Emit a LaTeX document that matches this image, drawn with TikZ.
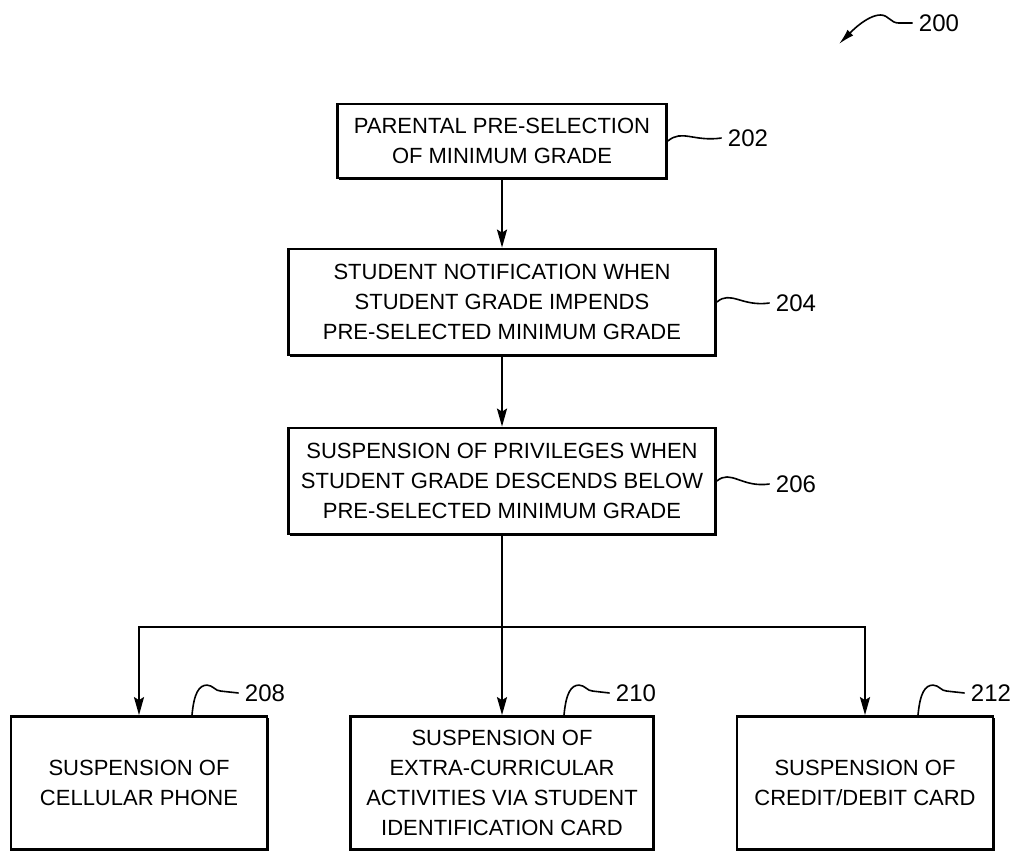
\documentclass[tikz,border=0pt]{standalone}
\usepackage{fontspec}
\setmainfont{Liberation Sans}
\usetikzlibrary{arrows.meta,shadows}
\tikzstyle{stepbox}=[draw, line width=1.4pt, fill=white, align=center, inner sep=2pt,
  font=\fontsize{11}{15}\selectfont,
  drop shadow={shadow xshift=0.8pt, shadow yshift=-0.8pt, fill=black, opacity=1}]
\tikzstyle{refnum}=[inner sep=3pt, font=\fontsize{12}{14}\selectfont]
\tikzstyle{leader}=[line width=0.8pt]
\tikzstyle{flow}=[draw, line width=1.1pt, -{Stealth[length=9pt,width=5pt,inset=1.5pt]}]
\newcommand{\stepbox}{\node[stepbox]}
\newcommand{\refnum}{\node[refnum]}

\begin{document}
\begin{tikzpicture}[x=0.5pt, y=-0.5pt
  ,every edge/.style={flow}
]
\useasboundingbox (0,0) rectangle (1016,852);
\stepbox[minimum width=164.5pt, minimum height=37pt] (b202) at (502,141) {PARENTAL PRE-SELECTION\\OF MINIMUM GRADE};
\stepbox[minimum width=213.5pt, minimum height=53pt] (b204) at (502,302) {STUDENT NOTIFICATION WHEN\\STUDENT GRADE IMPENDS\\PRE-SELECTED MINIMUM GRADE};
\stepbox[minimum width=213.5pt, minimum height=53pt] (b206) at (502,481) {SUSPENSION OF PRIVILEGES WHEN\\STUDENT GRADE DESCENDS BELOW\\PRE-SELECTED MINIMUM GRADE};
\stepbox[minimum width=128pt, minimum height=66.5pt] (b208) at (139,783) {SUSPENSION OF\\CELLULAR PHONE};
\stepbox[minimum width=151.5pt, minimum height=66.5pt] (b210) at (502,783) {SUSPENSION OF\\EXTRA-CURRICULAR\\ACTIVITIES VIA STUDENT\\IDENTIFICATION CARD};
\stepbox[minimum width=128pt, minimum height=66.5pt] (b212) at (865,783) {SUSPENSION OF\\CREDIT/DEBIT CARD};
\coordinate (split) at (502,627);
% reference numerals
\refnum (l200) at (939,23) {200};
\refnum (l202) at (748,138) {202};
\refnum (l204) at (796,303) {204};
\refnum (l206) at (796,484) {206};
\refnum (l208) at (265,693) {208};
\refnum (l210) at (636,693) {210};
\refnum (l212) at (991,693) {212};
\coordinate (t200) at (839,44);
\path
(b202) edge (b204)
(b204) edge (b206)
(split) edge (b210.north)
;
\draw[line width=1.1pt] (b206) -- (split);
\draw[flow] (split) -| (b208.north);
\draw[flow] (split) -| (b212.north);
% leaders
\draw[leader] (b202.east) .. controls +(14,-12) and +(-28,4) .. (l202.west);
\draw[leader] (b204.east) .. controls +(14,-12) and +(-28,4) .. (l204.west);
\draw[leader] (b206.east) .. controls +(14,-12) and +(-28,4) .. (l206.west);
\draw[leader] (b208.north) ++(53,0) .. controls +(2,-22) and +(-8,0) .. ++(15,-30) .. controls +(6,0) and +(-6,0) .. ++(14,6) -- (l208.west);
\draw[leader] (b210.north) ++(62,0) .. controls +(2,-22) and +(-8,0) .. ++(15,-30) .. controls +(6,0) and +(-6,0) .. ++(14,6) -- (l210.west);
\draw[leader] (b212.north) ++(53,0) .. controls +(2,-22) and +(-8,0) .. ++(15,-30) .. controls +(6,0) and +(-6,0) .. ++(14,6) -- (l212.west);
\draw[leader, -{Latex[length=8pt,width=4pt]}] (l200.west) -- ++(-14,0) .. controls +(-8,0) and +(8,0) .. ++(-18,-8) .. controls +(-14,0) and +(10,-10) .. (t200);
\end{tikzpicture}
\end{document}
